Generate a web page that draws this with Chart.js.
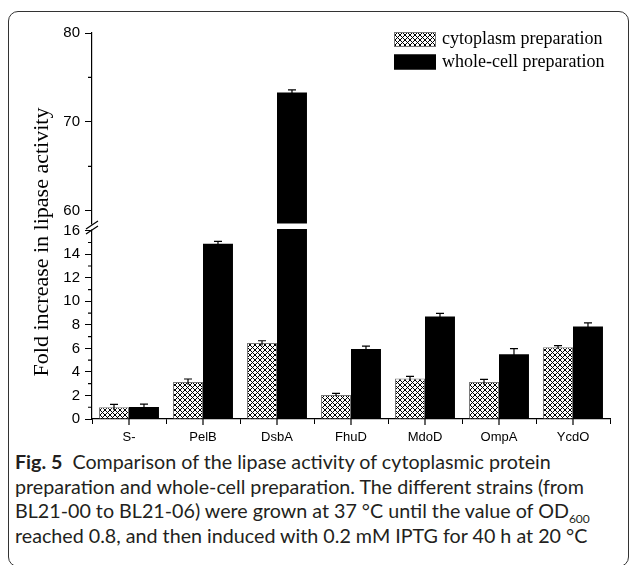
<!DOCTYPE html>
<html>
<head>
<meta charset="utf-8">
<script src="https://cdn.jsdelivr.net/npm/chart.js@4.4.1/dist/chart.umd.min.js"></script>
<style>
html, body { margin: 0; padding: 0; background: #fff; overflow: hidden; }
body { width: 629px; height: 565px; position: relative; }
#frame { position: absolute; left: 8px; top: 11px; width: 621px; height: 556px; border: 1.3px solid #333; border-radius: 10px; box-sizing: border-box; }
#wrap { position: absolute; left: 0; top: 0; width: 629px; height: 450px; }
#caption { position: absolute; left: 15px; top: 450px; font-family: Lato, "Noto Sans", sans-serif; font-size: 19.7px; line-height: 24.5px; color: #231f20; white-space: nowrap; }
#caption sub { font-size: 12px; line-height: 0; }
</style>
</head>
<body>
<div id="frame"></div>
<div id="wrap"><canvas id="myChart" width="629" height="450"></canvas></div>
<div id="caption"><b>Fig. 5</b>&nbsp; Comparison of the lipase activity of cytoplasmic protein<br>preparation and whole-cell preparation. The different strains (from<br>BL21-00 to BL21-06) were grown at 37 °C until the value of OD<sub>600</sub><br>reached 0.8, and then induced with 0.2 mM IPTG for 40 h at 20 °C</div>
<script>
const strains = ["S-", "PelB", "DsbA", "FhuD", "MdoD", "OmpA", "YcdO"];
const cytoplasm = [1.0, 3.15, 6.45, 2.05, 3.45, 3.15, 6.1];
const cytoplasmErr = [0.25, 0.25, 0.2, 0.12, 0.18, 0.22, 0.14];
const wholeCell = [1.02, 14.9, 73.3, 5.95, 8.7, 5.5, 7.85];
const wholeCellErr = [0.25, 0.2, 0.3, 0.25, 0.28, 0.48, 0.31];
const lowRange = [0, 16.4];
const highRange = [58.3, 80];
const lowTicks = [0, 2, 4, 6, 8, 10, 12, 14, 16];
const highTicks = [60, 70, 80];

const ctx = document.getElementById("myChart").getContext("2d");

function makeHatch() {
    const c = document.createElement("canvas");
    c.width = 5; c.height = 5;
    const g = c.getContext("2d");
    g.fillStyle = "#fff";
    g.fillRect(0, 0, 5, 5);
    g.strokeStyle = "#000";
    g.lineWidth = 1;
    g.beginPath();
    g.moveTo(0, 0); g.lineTo(5, 5);
    g.moveTo(5, 0); g.lineTo(0, 5);
    g.stroke();
    return ctx.createPattern(c, "repeat");
}
const hatch = makeHatch();

// whole-cell bars are split over the two stacked y axes
var wholeLow = wholeCell.map(v => Math.min(v, lowRange[1]));
var wholeLowErr = wholeCell.map((v, i) => v > lowRange[1] ? null : wholeCellErr[i]);
var wholeHigh = wholeCell.map(v => v > highRange[0] ? v : null);
var wholeHighErr = wholeCell.map((v, i) => v > highRange[0] ? wholeCellErr[i] : null);

const extras = {
    id: "extras",
    afterDatasetsDraw(chart) {
        const c = chart.ctx;
        c.save();
        c.strokeStyle = "#000";
        c.lineWidth = 1.2;
        chart.data.datasets.forEach((ds, i) => {
            const meta = chart.getDatasetMeta(i);
            const ys = chart.scales[ds.yAxisID];
            meta.data.forEach((bar, j) => {
                const v = ds.data[j], e = ds.errors[j];
                if (v == null || e == null) return;
                const top = ys.getPixelForValue(v + e);
                const bot = ys.getPixelForValue(v - e);
                c.beginPath();
                c.moveTo(bar.x, bot); c.lineTo(bar.x, top);
                c.moveTo(bar.x - 4, top); c.lineTo(bar.x + 4, top);
                c.stroke();
            });
        });
        c.restore();
    },
    afterDraw(chart) {
        const c = chart.ctx;
        const low = chart.scales.yLow, high = chart.scales.yHigh, x = chart.scales.x;
        const ax = low.right;
        const b = low.top;
        c.save();
        // white gap of the axis break
        c.fillStyle = "#fff";
        c.fillRect(ax + 1, b - 2.5, chart.chartArea.right - ax, 5.5);
        c.fillRect(ax - 2, b - 1.5, 4, 5);
        c.strokeStyle = "#000";
        c.lineWidth = 1.2;
        c.beginPath();
        c.moveTo(ax - 6, b + 3); c.lineTo(ax + 6, b - 5);
        c.moveTo(ax - 6, b + 8); c.lineTo(ax + 6, b);
        c.stroke();
        // minor ticks
        c.beginPath();
        for (let v = 1; v < 16; v += 2) {
            const y = low.getPixelForValue(v);
            c.moveTo(ax - 4, y); c.lineTo(ax, y);
        }
        [65, 75].forEach(v => {
            const y = high.getPixelForValue(v);
            c.moveTo(ax - 4, y); c.lineTo(ax, y);
        });
        // centre ticks of x axis
        strains.forEach((s, i) => {
            const px = x.getPixelForValue(i);
            c.moveTo(px, x.top); c.lineTo(px, x.top + 6);
        });
        c.stroke();
        // y title
        c.fillStyle = "#000";
        c.font = "22px 'Liberation Serif'";
        c.textAlign = "center";
        c.textBaseline = "middle";
        c.translate(42, 242);
        c.rotate(-Math.PI / 2);
        c.fillText("Fold increase in lipase activity", 0, 0);
        c.restore();
        // legend
        c.save();
        c.font = "18px 'Liberation Serif'";
        c.textBaseline = "middle";
        c.fillStyle = "#000";
        const items = [chart.data.datasets[0], chart.data.datasets[1]];
        items.forEach((ds, i) => {
            const y = 32 + i * 22.5;
            c.fillStyle = ds.backgroundColor;
            c.fillRect(394, y, 42, 15);
            c.strokeStyle = ds.borderColor;
            c.lineWidth = 1;
            c.strokeRect(394.5, y + 0.5, 41, 14);
            c.fillStyle = "#000";
            c.fillText(ds.label, 442, y + 7.5);
        });
        c.restore();
    }
};

const myChart = new Chart(ctx, {
    type: "bar",
    data: {
        labels: strains,
        datasets: [
            {
                label: "cytoplasm preparation",
                data: cytoplasm,
                errors: cytoplasmErr,
                yAxisID: "yLow",
                stack: "c",
                backgroundColor: hatch,
                borderColor: "#777",
                borderWidth: 1,
            },
            {
                label: "whole-cell preparation",
                data: wholeLow,
                errors: wholeLowErr,
                yAxisID: "yLow",
                stack: "w",
                backgroundColor: "#000",
                borderColor: "#000",
                borderWidth: 0,
            },
            {
                label: "whole-cell preparation (upper)",
                data: wholeHigh,
                errors: wholeHighErr,
                yAxisID: "yHigh",
                stack: "w",
                backgroundColor: "#000",
                borderColor: "#000",
                borderWidth: 0,
            },
        ],
    },
    options: {
        responsive: false,
        animation: false,
        categoryPercentage: 0.81,
        barPercentage: 1.0,
        layout: { padding: { top: 33, right: 19, left: 0, bottom: 0 } },
        scales: {
            x: {
                stacked: true,
                grid: { display: true, drawOnChartArea: false, offset: true, tickLength: 5, tickColor: "#000" },
                border: { display: true, color: "#000", width: 1.2 },
                ticks: { color: "#000", padding: 6, autoSkip: false, maxRotation: 0, font: { family: "'Liberation Sans'", size: 13 } },
                afterFit(scale) { scale.height = 31; },
            },
            yHigh: {
                type: "linear",
                position: "left",
                stack: "v",
                stackWeight: 1,
                weight: 1,
                stacked: false,
                min: highRange[0],
                max: highRange[1],
                afterBuildTicks(scale) { scale.ticks = highTicks.map(v => ({ value: v })); },
                grid: { display: true, drawOnChartArea: false, tickLength: 7, tickColor: "#000" },
                border: { display: true, color: "#000", width: 1.2 },
                ticks: { color: "#000", padding: 5, autoSkip: false, font: { family: "'Liberation Sans'", size: 15 } },
                afterFit(scale) { scale.width = 92; },
            },
            yLow: {
                type: "linear",
                position: "left",
                stack: "v",
                stackWeight: 1,
                weight: 0,
                stacked: false,
                min: lowRange[0],
                max: lowRange[1],
                afterBuildTicks(scale) { scale.ticks = lowTicks.map(v => ({ value: v })); },
                grid: { display: true, drawOnChartArea: false, tickLength: 7, tickColor: "#000" },
                border: { display: true, color: "#000", width: 1.2 },
                ticks: { color: "#000", padding: 5, autoSkip: false, font: { family: "'Liberation Sans'", size: 15 } },
                afterFit(scale) { scale.width = 92; },
            },
        },
        plugins: {
            legend: { display: false },
            tooltip: { enabled: false },
        },
    },
    plugins: [extras],
});
</script>
</body>
</html>
